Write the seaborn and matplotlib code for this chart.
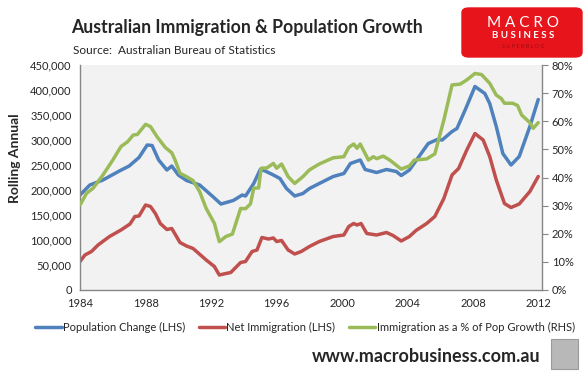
import numpy as np
import pandas as pd
import matplotlib
matplotlib.use("Agg")
import matplotlib.pyplot as plt
import matplotlib.ticker as mticker
from matplotlib.patches import Rectangle, FancyBboxPatch
import seaborn as sns

# Population change (LHS), rolling annual
pop_years = [1984.0, 1984.6, 1985.4, 1986.4, 1987.0, 1987.6, 1988.1, 1988.4, 1988.8, 1989.3,
             1989.6, 1990.0, 1990.5, 1991.3, 1992.1, 1992.6, 1993.35, 1993.9, 1994.1, 1994.6,
             1995.0, 1995.3, 1995.8, 1996.2, 1996.6, 1997.1, 1997.6, 1998.0, 1998.6, 1999.45,
             2000.1, 2000.5, 2001.1, 2001.4, 2002.1, 2002.7, 2003.3, 2003.6, 2004.1, 2004.75,
             2005.25, 2005.8, 2006.1, 2006.7, 2007.0, 2007.5, 2008.1, 2008.7, 2009.0, 2009.4,
             2009.8, 2010.3, 2010.8, 2011.45, 2011.96]
pop_change = [190000, 210000, 220000, 238000, 248000, 265000, 290000, 289000, 260000, 240000,
              248000, 230000, 219000, 210000, 187000, 172000, 179000, 190000, 188000, 213000,
              241000, 238000, 230000, 223000, 203000, 188000, 193000, 203000, 213000, 227000,
              233000, 253000, 260000, 241000, 235000, 241000, 237000, 229000, 240000, 270000,
              293000, 301000, 300000, 317000, 323000, 360000, 407000, 393000, 373000, 327000,
              273000, 250000, 267000, 327000, 381000]

# Net immigration (LHS)
imm_years = [1984.0, 1984.3, 1984.7, 1985.1, 1985.8, 1986.5, 1987.05, 1987.35, 1987.6, 1988.0,
             1988.3, 1988.6, 1988.9, 1989.3, 1989.6, 1990.1, 1990.5, 1990.9, 1991.7, 1992.2,
             1992.5, 1992.9, 1993.2, 1993.8, 1994.1, 1994.5, 1994.8, 1995.1, 1995.5, 1995.8,
             1996.0, 1996.3, 1996.7, 1997.1, 1997.5, 1998.0, 1998.6, 1999.45, 2000.1, 2000.4,
             2000.7, 2000.9, 2001.15, 2001.5, 2002.1, 2002.7, 2003.1, 2003.6, 2004.1, 2004.5,
             2005.15, 2005.65, 2006.2, 2006.7, 2007.1, 2007.6, 2008.1, 2008.6, 2009.0, 2009.4,
             2009.9, 2010.3, 2010.8, 2011.45, 2011.96]
net_imm = [57000, 70000, 77000, 90000, 107000, 120000, 132000, 147000, 148000, 170000,
           167000, 153000, 133000, 121000, 123000, 95000, 88000, 83000, 60000, 47000,
           30000, 33000, 35000, 55000, 57000, 77000, 80000, 105000, 102000, 104000,
           97000, 99000, 80000, 72000, 77000, 87000, 97000, 107000, 110000, 127000,
           133000, 130000, 133000, 113000, 110000, 115000, 109000, 98000, 107000, 119000,
           133000, 147000, 183000, 230000, 243000, 280000, 313000, 300000, 267000, 220000,
           173000, 165000, 172000, 197000, 227000]

# Immigration as a % of population growth (RHS)
pct_years = [1984.0, 1984.4, 1984.8, 1985.4, 1986.0, 1986.5, 1986.9, 1987.25, 1987.5, 1988.0,
             1988.3, 1988.7, 1989.2, 1989.6, 1989.8, 1990.1, 1990.5, 1990.9, 1991.3, 1991.7,
             1992.2, 1992.5, 1992.9, 1993.3, 1993.8, 1994.1, 1994.4, 1994.6, 1994.9, 1995.05,
             1995.4, 1995.8, 1996.0, 1996.3, 1996.7, 1997.1, 1997.6, 1998.0, 1998.6, 1999.45,
             2000.1, 2000.4, 2000.7, 2000.9, 2001.1, 2001.6, 2001.9, 2002.1, 2002.5, 2002.9,
             2003.6, 2004.1, 2004.4, 2005.15, 2005.65, 2006.2, 2006.7, 2007.2, 2007.6, 2008.1,
             2008.5, 2009.0, 2009.4, 2009.7, 2009.9, 2010.4, 2010.7, 2010.95, 2011.45, 2011.65,
             2011.96]
imm_pct = [0.302, 0.344, 0.362, 0.409, 0.462, 0.510, 0.527, 0.551, 0.553, 0.589,
           0.581, 0.545, 0.507, 0.488, 0.462, 0.415, 0.403, 0.389, 0.350, 0.290,
           0.237, 0.172, 0.190, 0.199, 0.290, 0.289, 0.306, 0.362, 0.363, 0.433,
           0.434, 0.450, 0.433, 0.448, 0.403, 0.379, 0.403, 0.427, 0.448, 0.470,
           0.474, 0.507, 0.519, 0.504, 0.519, 0.462, 0.474, 0.467, 0.476, 0.462,
           0.430, 0.441, 0.462, 0.466, 0.484, 0.604, 0.729, 0.732, 0.747, 0.770,
           0.766, 0.735, 0.693, 0.681, 0.664, 0.664, 0.656, 0.622, 0.595, 0.575,
           0.595]

x_ticks = [1984, 1988, 1992, 1996, 2000, 2004, 2008, 2012]

BLUE, RED, GREEN = "#4F81BD", "#C0504D", "#9BBB59"
FONT = ["Lato", "DejaVu Sans"]

sns.set_style("white")
plt.rcParams["font.family"] = FONT

fig = plt.figure(figsize=(5.86, 3.75), dpi=100)
ax = fig.add_axes([80 / 586, 1 - 290 / 375, 462 / 586, 225 / 375])
ax.set_facecolor("#F2F2F2")

sns.lineplot(x=pop_years, y=pop_change, ax=ax, color=BLUE, lw=2.5, estimator=None,
             label="Population Change (LHS)", legend=False)
sns.lineplot(x=imm_years, y=net_imm, ax=ax, color=RED, lw=2.5, estimator=None,
             label="Net Immigration (LHS)", legend=False)

ax2 = ax.twinx()
sns.lineplot(x=pct_years, y=imm_pct, ax=ax2, color=GREEN, lw=2.5, estimator=None,
             label="Immigration as a % of Pop Growth (RHS)", legend=False)

ax.set_xlim(1984, 2012.19)
ax.set_ylim(0, 450000)
ax2.set_ylim(0, 0.8)
ax.set_xticks(x_ticks)
ax.set_yticks(np.arange(0, 450001, 50000))
ax2.set_yticks(np.arange(0, 0.81, 0.1))
ax.yaxis.set_major_formatter(mticker.FuncFormatter(lambda v, p: f"{int(v):,}"))
ax2.yaxis.set_major_formatter(mticker.PercentFormatter(1.0, decimals=0))

for a in (ax, ax2):
    for s in a.spines.values():
        s.set_visible(False)
ax.spines["left"].set_visible(True)
ax.spines["bottom"].set_visible(True)
ax2.spines["right"].set_visible(True)
for s in (ax.spines["left"], ax.spines["bottom"], ax2.spines["right"]):
    s.set_color("#868686")
    s.set_linewidth(1.0)

ax.tick_params(axis="x", direction="in", length=4, color="#868686", labelsize=8, pad=6)
ax.tick_params(axis="y", length=0, labelsize=8, pad=6)
ax2.tick_params(axis="y", direction="out", length=4, color="#868686", labelsize=8, pad=3)
ax.set_xlabel("")
ax.set_ylabel("")
ax2.set_ylabel("")

fig.text(15 / 586, 1 - 158 / 375, "Rolling Annual", rotation=90, ha="center", va="center",
         fontsize=10, fontweight="bold")

# Titles
fig.text(71 / 586, 1 - 27 / 375, "Australian Immigration & Population Growth",
         fontsize=12.7, fontweight="bold", va="center", ha="left")
fig.text(73 / 586, 1 - 51 / 375, "Source:  Australian Bureau of Statistics",
         fontsize=8.6, va="center", ha="left")

# Logo block
fig.patches.append(FancyBboxPatch((462 / 586, 1 - 57 / 375), 120 / 586, 49 / 375,
                                  boxstyle="round,pad=0,rounding_size=0.012",
                                  transform=fig.transFigure, color="#E8141C", zorder=0))
fig.text(523 / 586, 1 - 23 / 375, "M A C R O", color="white", fontsize=11, ha="center", va="center")
fig.text(523 / 586, 1 - 36 / 375, "B U S I N E S S", color="white", fontsize=7,
         ha="center", va="center", fontweight="bold")
fig.text(523 / 586, 1 - 47 / 375, "S U P E R B L O G", color="#9A0E12", fontsize=4,
         ha="center", va="center")

# Legend
handles = [plt.Line2D([], [], color=c, lw=2.5) for c in (BLUE, RED, GREEN)]
labels = ["Population Change (LHS)", "Net Immigration (LHS)",
          "Immigration as a % of Pop Growth (RHS)"]
fig.legend(handles, labels, loc="center", bbox_to_anchor=(305 / 586, 1 - 327 / 375),
           ncol=3, frameon=False, fontsize=8, handlelength=2.4, handletextpad=0.1,
           columnspacing=1.2)

# Footer
fig.text(540 / 586, 1 - 357 / 375, "www.macrobusiness.com.au", fontsize=13,
         fontweight="bold", ha="right", va="center")
fig.patches.append(Rectangle((551 / 586, 1 - 369 / 375), 27 / 586, 30 / 375,
                             transform=fig.transFigure, facecolor="#B8B8B8",
                             edgecolor="#9A9A9A", lw=0.8))

fig.savefig("out.png", dpi=100)
